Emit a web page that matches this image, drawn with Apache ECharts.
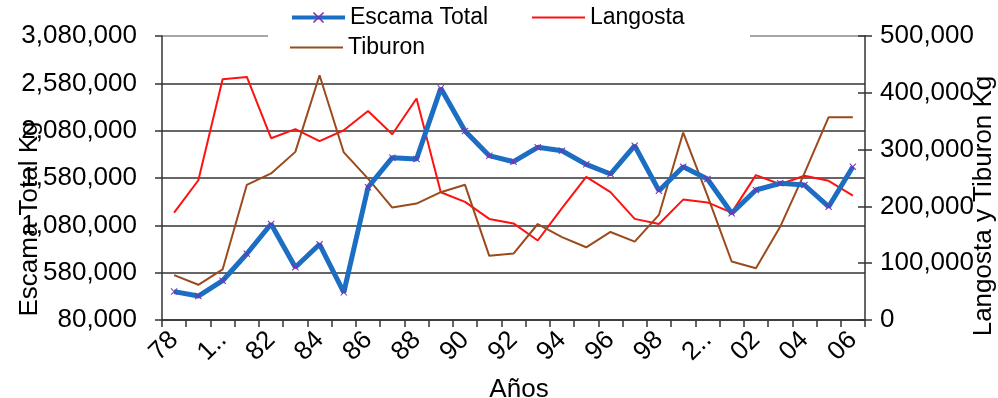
<!DOCTYPE html>
<html>
<head>
<meta charset="utf-8">
<script src="https://cdn.jsdelivr.net/npm/echarts@6/dist/echarts.min.js"></script>
<style>
  html, body { margin: 0; padding: 0; background: #fff; }
  #chart { width: 998px; height: 398px; }
</style>
</head>
<body>
<div id="chart"></div>
<script>
// Years 1978-2006; 1980 and 2000 are written in full and shortened on the axis
const years = ['78','79','1980','81','82','83','84','85','86','87','88','89','90','91','92','93','94','95','96','97','98','99','2000','01','02','03','04','05','06'];

// Escama Total (Kg), left axis
const escamaTotal = [380000, 333000, 495000, 780000, 1094000, 637000, 880000, 372000, 1482000, 1795000, 1781000, 2527000, 2076000, 1816000, 1752000, 1904000, 1868000, 1724000, 1622000, 1921000, 1446000, 1699000, 1569000, 1207000, 1453000, 1524000, 1506000, 1277000, 1699000];

// Langosta (Kg), right axis
const langosta = [189000, 246000, 424000, 428000, 320000, 336000, 315000, 334000, 368000, 327000, 390000, 225000, 208000, 178000, 170000, 140000, 197000, 252000, 225000, 178000, 169000, 212000, 207000, 189000, 255000, 239000, 254000, 245000, 219000];

// Tiburon (Kg), right axis
const tiburon = [79000, 62000, 89000, 238000, 258000, 296000, 431000, 295000, 249000, 198000, 205000, 225000, 238000, 113000, 117000, 169000, 146000, 128000, 155000, 138000, 185000, 330000, 219000, 103000, 91000, 164000, 258000, 357000, 357000];

// Left tick labels start at 80,000 and step by 500,000
const leftBase = 80000;
const leftStep = 500000;
const leftSteps = 6;
const rightMax = 500000;
const rightStep = 100000;

const fmt = v => Math.round(v).toLocaleString('en-US');
const font = 'Liberation Sans, Arial, sans-serif';

const chart = echarts.init(document.getElementById('chart'), null, { renderer: 'canvas' });

const starPath = 'path://M0,1 L1,0 L5,4 L9,0 L10,1 L6,5 L10,9 L9,10 L5,6 L1,10 L0,9 L4,5 Z';
const legendText = { fontSize: 23, color: '#000', fontFamily: font };

chart.setOption({
  animation: false,
  backgroundColor: '#fff',
  textStyle: { fontFamily: font, color: '#000' },
  grid: { left: 162, right: 133, top: 36, bottom: 78 },
  legend: [
    { data: ['Escama Total'], left: 290, top: 6, padding: 0, itemWidth: 53, itemHeight: 14,
      lineStyle: { width: 4 }, textStyle: legendText },
    { data: [{ name: 'Langosta', icon: 'rect' }], left: 532, top: 6, padding: 0, itemWidth: 53, itemHeight: 2,
      textStyle: legendText },
    { data: [{ name: 'Tiburon', icon: 'rect' }], left: 290, top: 36, padding: 0, itemWidth: 53, itemHeight: 2,
      textStyle: legendText }
  ],
  graphic: [
    // white panel behind the legend, interrupting the top border
    { type: 'rect', left: 268, top: 0, z: 1, silent: true,
      shape: { width: 482, height: 50 }, style: { fill: '#fff' } },
    { type: 'text', z: 10, rotation: Math.PI / 2, x: 30, y: 219,
      style: { text: 'Escama Total Kg', fontSize: 26, fontFamily: font, fill: '#000',
               textAlign: 'center', textVerticalAlign: 'middle' } },
    { type: 'text', z: 10, rotation: Math.PI / 2, x: 984, y: 206,
      style: { text: 'Langosta y Tiburon Kg', fontSize: 26, fontFamily: font, fill: '#000',
               textAlign: 'center', textVerticalAlign: 'middle' } },
    { type: 'text', z: 10, x: 519, y: 390,
      style: { text: 'Años', fontSize: 26, fontFamily: font, fill: '#000',
               textAlign: 'center', textVerticalAlign: 'middle' } }
  ],
  xAxis: {
    type: 'category',
    data: years,
    boundaryGap: true,
    axisLine: { show: true, lineStyle: { color: '#333', width: 1.5 } },
    axisTick: { show: true, length: 7, interval: 0, lineStyle: { color: '#333', width: 1.5 } },
    axisLabel: {
      interval: 1, rotate: 45, margin: 16, fontSize: 26, color: '#000', fontFamily: font,
      formatter: v => v.length > 2 ? v.charAt(0) + '..' : v
    },
    splitLine: { show: false }
  },
  yAxis: [
    // scale carrying Escama Total
    { type: 'value', position: 'left', min: leftBase, max: leftBase + leftStep * leftSteps,
      show: false, splitLine: { show: false } },
    // visible left axis: gridlines and labels offset by the 80,000 base
    { type: 'value', position: 'left', min: 0, max: leftStep * leftSteps, interval: leftStep,
      axisLine: { show: true, lineStyle: { color: '#333', width: 1.5 } },
      axisTick: { show: true, length: 7, lineStyle: { color: '#333', width: 1.5 } },
      axisLabel: { margin: 25, fontSize: 26, color: '#000', fontFamily: font,
                   formatter: v => fmt(v + leftBase) },
      splitLine: { show: true, lineStyle: { color: ['#333','#333','#333','#333','#333','#333','#8a8a8a'], width: 1.5 } } },
    // right axis for Langosta and Tiburon
    { type: 'value', position: 'right', min: 0, max: rightMax, interval: rightStep,
      axisLine: { show: true, lineStyle: { color: '#333', width: 1.5 } },
      axisTick: { show: true, length: 7, lineStyle: { color: '#333', width: 1.5 } },
      axisLabel: { margin: 15, fontSize: 26, color: '#000', fontFamily: font, formatter: fmt },
      splitLine: { show: false } },
    // inner half of the right-axis cross ticks
    { type: 'value', position: 'right', min: 0, max: rightMax, interval: rightStep,
      axisLine: { show: false },
      axisTick: { show: true, inside: true, length: 7, lineStyle: { color: '#333', width: 1.5 } },
      axisLabel: { show: false },
      splitLine: { show: false } }
  ],
  series: [
    { name: 'Escama Total', type: 'line', yAxisIndex: 0, data: escamaTotal, z: 3,
      color: '#1b6ec2',
      lineStyle: { color: '#1b6ec2', width: 5 },
      symbol: starPath, symbolSize: 7, showAllSymbol: true,
      itemStyle: { color: '#7a2fb0', borderWidth: 0 } },
    { name: 'Langosta', type: 'line', yAxisIndex: 2, data: langosta, z: 2,
      color: '#ff1111', symbol: 'none',
      itemStyle: { color: '#ff1111' },
      lineStyle: { color: '#ff1111', width: 2 } },
    { name: 'Tiburon', type: 'line', yAxisIndex: 2, data: tiburon, z: 2,
      color: '#9b4a1c', symbol: 'none',
      itemStyle: { color: '#9b4a1c' },
      lineStyle: { color: '#9b4a1c', width: 2 } }
  ]
});
</script>
</body>
</html>
